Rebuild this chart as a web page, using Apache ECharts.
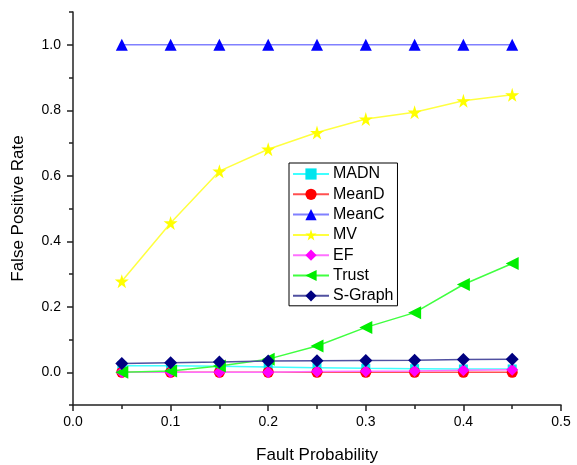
<!DOCTYPE html>
<html>
<head>
<meta charset="utf-8">
<script src="https://cdn.jsdelivr.net/npm/echarts@6/dist/echarts.min.js"></script>
<style>
  html, body { margin: 0; padding: 0; background: #fff; }
  #chart { width: 577px; height: 465px; }
</style>
</head>
<body>
<div id="chart"></div>
<script>
// fault probability (x)
const faultProb = [0.05, 0.10, 0.15, 0.20, 0.25, 0.30, 0.35, 0.40, 0.45]

// false positive rate per method
const madn   = [0.020, 0.020, 0.018, 0.016, 0.014, 0.012, 0.011, 0.010, 0.010]
const meanD  = [0.000, 0.000, 0.000, 0.000, 0.000, 0.000, 0.000, 0.000, 0.000]
const meanC  = [1.000, 1.000, 1.000, 1.000, 1.000, 1.000, 1.000, 1.000, 1.000]
const mv     = [0.278, 0.456, 0.614, 0.681, 0.732, 0.773, 0.794, 0.829, 0.847]
const ef     = [0.000, 0.000, 0.000, 0.000, 0.002, 0.003, 0.004, 0.006, 0.008]
const trust  = [0.000, 0.004, 0.019, 0.040, 0.080, 0.137, 0.182, 0.268, 0.332]
const sGraph = [0.027, 0.029, 0.031, 0.034, 0.035, 0.036, 0.037, 0.039, 0.040]

const yMajorTicks = [0, 0.2, 0.4, 0.6, 0.8, 1.0]
const yMinorTicks = [-0.1, 0.1, 0.3, 0.5, 0.7, 0.9, 1.1]

const FONT = 'Liberation Sans, Arial, sans-serif'
const STAR = 'path://M50,0 L61,35 L98,35 L68,57 L79,91 L50,70 L21,91 L32,57 L2,35 L39,35 Z'

function pairs (ys) {
  return faultProb.map((x, i) => [x, ys[i]])
}

function makeSeries (name, ys, lineColor, markColor, symbol, size, rotate) {
  return {
    name: name,
    type: 'line',
    data: pairs(ys),
    symbol: symbol,
    symbolSize: size,
    symbolRotate: rotate || 0,
    lineStyle: { color: lineColor, width: 1.5 },
    itemStyle: { color: markColor },
    emphasis: { disabled: true },
    animation: false
  }
}

const chart = echarts.init(document.getElementById('chart'))

const option = {
  backgroundColor: '#fff',
  textStyle: { fontFamily: FONT },
  grid: { left: 73, right: 16, top: 12, bottom: 60, containLabel: false, outerBoundsMode: 'none' },
  legend: {
    orient: 'vertical',
    left: 289,
    top: 163,
    padding: [3, 4, 2, 3],
    itemWidth: 36,
    itemHeight: 14,
    itemGap: 4.3,
    borderColor: '#000',
    borderWidth: 1,
    textStyle: { fontSize: 16, color: '#000', fontFamily: FONT, padding: [0, 0, 0, -1] },
    data: ['MADN', 'MeanD', 'MeanC', 'MV', 'EF', 'Trust', 'S-Graph']
  },
  xAxis: {
    type: 'value',
    min: 0,
    max: 0.5,
    interval: 0.1,
    name: 'Fault Probability',
    nameLocation: 'middle',
    nameGap: 42,
    nameTextStyle: { fontSize: 17, color: '#000', fontFamily: FONT },
    axisLine: { show: true, onZero: false, lineStyle: { color: '#222', width: 1.5 } },
    axisTick: { show: true, length: 6, lineStyle: { color: '#222', width: 1.5 } },
    minorTick: { show: true, splitNumber: 2, length: 4, lineStyle: { color: '#222', width: 1.5 } },
    axisLabel: { fontSize: 14, color: '#000', margin: 10, formatter: v => v.toFixed(1) },
    splitLine: { show: false }
  },
  yAxis: [{
    type: 'value',
    min: -0.1,
    max: 1.1,
    interval: 0.1,
    name: 'False Positive Rate',
    nameLocation: 'middle',
    nameGap: 46,
    nameTextStyle: { fontSize: 17, color: '#000', fontFamily: FONT },
    axisLine: { show: true, onZero: false, lineStyle: { color: '#222', width: 1.5 } },
    axisTick: { show: true, length: 6, customValues: yMajorTicks, lineStyle: { color: '#222', width: 1.5 } },
    axisLabel: { fontSize: 14, color: '#000', margin: 12, customValues: yMajorTicks, formatter: v => v.toFixed(1) },
    splitLine: { show: false }
  }, {
    type: 'value',
    position: 'left',
    min: -0.1,
    max: 1.1,
    interval: 0.1,
    axisLine: { show: false, onZero: false },
    axisTick: { show: true, length: 4, customValues: yMinorTicks, lineStyle: { color: '#222', width: 1.5 } },
    axisLabel: { show: false },
    splitLine: { show: false }
  }],
  series: [
    makeSeries('MADN', madn, '#40ffff', '#00e5ee', 'rect', 9),
    makeSeries('MeanD', meanD, '#ff5050', '#ff0000', 'circle', 11),
    makeSeries('MeanC', meanC, '#8080ff', '#0000ff', 'triangle', 12),
    makeSeries('MV', mv, '#ffff40', '#ffff00', STAR, 14),
    makeSeries('EF', ef, '#ff70ff', '#ff00ff', 'diamond', 12),
    makeSeries('Trust', trust, '#40ff40', '#00ee00', 'triangle', 13, 90),
    makeSeries('S-Graph', sGraph, '#5050a0', '#000080', 'diamond', 13)
  ]
}

chart.setOption(option)
</script>
</body>
</html>
